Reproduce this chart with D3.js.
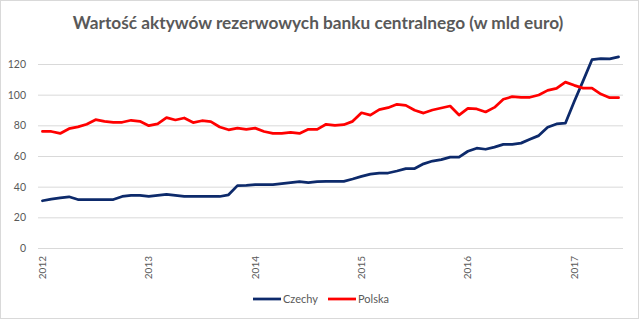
<!DOCTYPE html>
<html>
<head>
<meta charset="utf-8">
<script src="https://cdn.jsdelivr.net/npm/d3@7"></script>
<style>
html,body{margin:0;padding:0;background:#fff;}
svg{display:block;}
text{font-family:Lato,"Open Sans",sans-serif;fill:#595959;}
</style>
</head>
<body>
<svg id="chart" width="640" height="322"></svg>
<script>
const title = "Wartość aktywów rezerwowych banku centralnego (w mld euro)";
const months = [
"2012-01","2012-02","2012-03","2012-04","2012-05","2012-06","2012-07","2012-08","2012-09","2012-10","2012-11","2012-12",
"2013-01","2013-02","2013-03","2013-04","2013-05","2013-06","2013-07","2013-08","2013-09","2013-10","2013-11","2013-12",
"2014-01","2014-02","2014-03","2014-04","2014-05","2014-06","2014-07","2014-08","2014-09","2014-10","2014-11","2014-12",
"2015-01","2015-02","2015-03","2015-04","2015-05","2015-06","2015-07","2015-08","2015-09","2015-10","2015-11","2015-12",
"2016-01","2016-02","2016-03","2016-04","2016-05","2016-06","2016-07","2016-08","2016-09","2016-10","2016-11","2016-12",
"2017-01","2017-02","2017-03","2017-04","2017-05","2017-06"];
const czechy = [
30.8,31.9,32.7,33.4,31.6,31.6,31.6,31.6,31.6,33.6,34.3,34.3,
33.6,34.3,35.0,34.3,33.6,33.6,33.6,33.6,33.6,34.7,40.7,40.9,
41.3,41.3,41.3,42.0,42.6,43.3,42.6,43.3,43.5,43.5,43.5,45.0,
46.7,48.2,48.9,48.9,50.2,51.8,51.8,54.9,56.7,57.6,59.3,59.3,
63.1,65.1,64.4,65.8,67.6,67.6,68.4,70.9,73.3,78.7,80.9,81.4,
95.5,109.0,122.8,123.5,123.3,124.6];
const polska = [
76.0,76.0,74.7,77.8,79.0,80.7,83.7,82.6,82.0,82.0,83.3,82.6,
79.8,81.0,85.0,83.5,84.8,81.8,83.0,82.4,78.9,77.1,78.2,77.4,
78.2,76.0,74.7,74.7,75.4,74.7,77.4,77.4,80.7,80.0,80.4,82.6,
88.2,86.7,90.2,91.5,93.7,93.0,89.8,88.0,90.0,91.3,92.6,86.7,
91.1,90.7,88.7,91.7,97.0,98.7,98.3,98.3,99.8,102.8,104.1,108.2,
106.1,104.3,104.3,100.4,98.0,98.0];
const yTicks = [0,20,40,60,80,100,120];
const xTickMonths = ["2012-01","2013-01","2014-01","2015-01","2016-01","2017-01"];
const xTickLabels = ["2012","2013","2014","2015","2016","2017"];
const seriesNames = ["Czechy","Polska"];
const seriesColors = ["#0d2a6b","#ff0000"];

const svg = d3.select("#chart");
const W = 640, H = 322;
const plot = {left:38, right:623, top:64, bottom:248};

// chart border
svg.append("rect").attr("x",0.5).attr("y",0.5).attr("width",W-2).attr("height",H-4)
  .attr("fill","#fff").attr("stroke","#d9d9d9").attr("stroke-width",1);

const x = d3.scaleBand().domain(months).range([plot.left, plot.right]).padding(0);
const y = d3.scaleLinear().domain([0,120]).range([plot.bottom, plot.top]);
const cx = m => x(m) + x.bandwidth()/2;

// gridlines + y labels via axis
const yAxis = d3.axisLeft(y).tickValues(yTicks).tickSize(-(plot.right-plot.left)).tickPadding(12);
const gy = svg.append("g").attr("transform",`translate(${plot.left},0)`).call(yAxis);
gy.select(".domain").remove();
gy.selectAll(".tick line").attr("stroke","#d9d9d9").attr("stroke-width",1);
gy.selectAll(".tick text").attr("font-size","10.5px").attr("fill","#595959")
  .style("font-family","Lato, 'Open Sans', sans-serif");

// x labels
const xAxis = d3.axisBottom(x).tickValues(xTickMonths)
  .tickFormat(m => xTickLabels[xTickMonths.indexOf(m)]).tickSize(0);
const gx = svg.append("g").attr("transform",`translate(0,${plot.bottom})`).call(xAxis);
gx.select(".domain").remove();
gx.selectAll(".tick text")
  .attr("font-size","10px").attr("fill","#595959")
  .style("font-family","Lato, 'Open Sans', sans-serif")
  .attr("text-anchor","end")
  .attr("transform","rotate(-90)")
  .attr("x",-8).attr("y",0).attr("dy","0.35em");

// lines
const line = d3.line().x((d,i)=>cx(months[i])).y(d=>y(d)).curve(d3.curveLinear);
[czechy, polska].forEach((s,k)=>{
  svg.append("path").datum(s).attr("fill","none")
    .attr("stroke",seriesColors[k]).attr("stroke-width",2.75)
    .attr("stroke-linejoin","round").attr("stroke-linecap","round")
    .attr("d",line);
});

// title
const t = svg.append("text").attr("x",318).attr("y",29).attr("text-anchor","middle")
  .attr("font-size","17px").attr("font-weight","bold").attr("fill","#595959").text(title);
const tw = t.node().getComputedTextLength();
t.attr("font-size", (17*491/tw).toFixed(2)+"px");

// legend
const legendX = [253, 328];
seriesNames.forEach((n,k)=>{
  const g = svg.append("g");
  g.append("line").attr("x1",legendX[k]).attr("x2",legendX[k]+28)
    .attr("y1",299).attr("y2",299).attr("stroke",seriesColors[k]).attr("stroke-width",2.75);
  g.append("text").attr("x",legendX[k]+30).attr("y",299).attr("dy","0.35em")
    .attr("font-size","11px").text(n);
});
</script>
</body>
</html>
